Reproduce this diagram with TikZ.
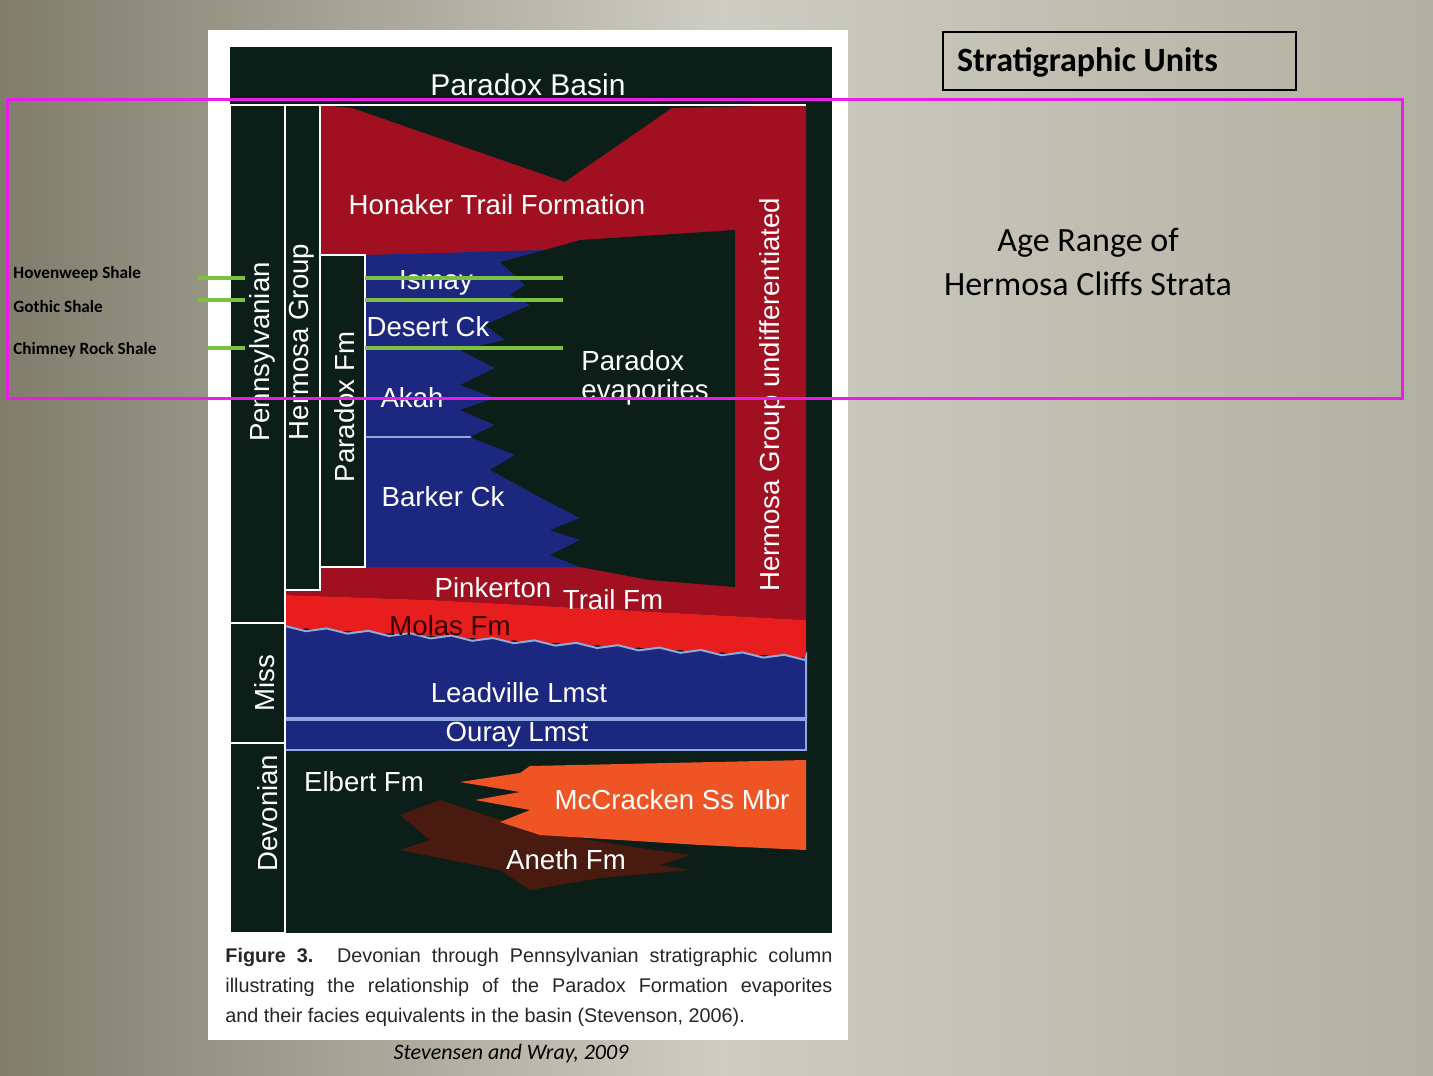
\documentclass[tikz,border=0pt]{standalone}
\usepackage{fontspec}
\setmainfont{Liberation Sans}
\newfontfamily\calib{Carlito}
\usetikzlibrary{positioning}
\definecolor{bgdark}{RGB}{128,125,108}
\definecolor{bglight}{RGB}{206,205,195}
\definecolor{bgright}{RGB}{178,176,160}
\definecolor{colblack}{RGB}{12,30,24}
\definecolor{hermred}{RGB}{160,16,32}
\definecolor{molasred}{RGB}{232,30,30}
\definecolor{parblue}{RGB}{28,40,128}
\definecolor{edgeblue}{RGB}{140,170,220}
\definecolor{mccorange}{RGB}{238,84,36}
\definecolor{anethbrown}{RGB}{72,26,16}
\definecolor{shalegreen}{RGB}{124,192,64}
\definecolor{agemagenta}{RGB}{230,30,230}
\tikzset{unitlabel/.style={text=white, font=\fontsize{13.8}{15}\selectfont, inner sep=0pt},
  sidelabel/.style={font=\calib\bfseries\fontsize{8.6}{10}\selectfont, anchor=west, inner sep=0pt},
  shaleline/.style={shalegreen, line width=1.6pt}}
\begin{document}
\begin{tikzpicture}[x=0.5pt, y=-0.5pt]
  % Background
  \shade[left color=bgdark, right color=bgright, middle color=bglight] (0,0) rectangle (1433,1075);
  \useasboundingbox (0,0) rectangle (1433,1075);
  % Figure panel
  \fill[white] (208,30) rectangle (848,1040);
  \fill[colblack] (230,47) rectangle (832,933);
  % Hermosa and Pinkerton red
  \fill[hermred] (320,105) -- (352,108) -- (565,182) -- (672,108) -- (806,105) -- (806,620)
    -- (430,600) -- (285,595) -- (285,590) -- (320,590) -- cycle;
  % Paradox members
  \fill[parblue] (365,255) -- (545,250) -- (650,567) -- (365,567) -- cycle;
  \draw[edgeblue, line width=0.6pt] (365,300) -- (520,300) (365,347) -- (470,347) (365,437) -- (480,437);
  % Paradox evaporites
  \fill[colblack] (735,230) -- (735,587) -- (650,580) -- (580,567) -- (550,555) -- (580,540) -- (550,530)
    -- (580,518) -- (545,500) -- (490,470) -- (515,455) -- (470,437) -- (495,425) -- (460,410)
    -- (495,398) -- (460,385) -- (495,368) -- (460,350) -- (505,340) -- (485,325) -- (530,305)
    -- (510,295) -- (525,285) -- (500,262) -- (545,250) -- (580,240) -- cycle;
  % Molas, Leadville, Ouray
  \fill[molasred] (285,595) -- (430,600) -- (806,620) -- (806,657)
    \foreach \i in {0,...,25} { -- ({806-\i*20.8},{657-\i*1.2+mod(\i,2)*4}) } -- (285,625) -- cycle;
  \filldraw[fill=parblue, draw=edgeblue, line width=1pt] (285,625)
    \foreach \i in {0,...,25} { -- ({285+\i*20.8},{626+\i*1.2+mod(\i,2)*4}) } -- (806,657) -- (806,718) -- (285,718) -- cycle;
  \filldraw[fill=parblue, draw=edgeblue, line width=1pt] (285,720) rectangle (806,750);
  % Devonian units
  \fill[anethbrown] (400,815) -- (440,800) -- (470,810) -- (530,830) -- (620,845) -- (690,855)
    -- (660,865) -- (690,870) -- (600,878) -- (530,890) -- (500,870) -- (450,860) -- (400,850)
    -- (430,840) -- cycle;
  \fill[mccorange] (806,760) -- (806,850) -- (700,845) -- (540,835) -- (500,822) -- (530,810)
    -- (475,800) -- (520,792) -- (460,782) -- (520,773) -- (530,766) -- cycle;
  % Column frames
  \filldraw[fill=colblack, draw=white, line width=0.8pt] (320,255) rectangle (365,567);
  \draw[white, line width=0.8pt] (230,105) -- (806,105) (230,105) rectangle (285,933)
    (230,623) -- (285,623) (230,743) -- (285,743) (285,105) rectangle (320,590);
  % Labels
  \node[unitlabel, font=\fontsize{15}{16}\selectfont] (basin) at (528,85) {Paradox Basin};
  \node[unitlabel] (honaker) at (497,205) {Honaker Trail Formation};
  \node[unitlabel] (ismay) at (436,283) {Ismay};
  \node[unitlabel] (desert) at (428,327) {Desert Ck};
  \node[unitlabel] (akah) at (412,398) {Akah};
  \node[unitlabel] (barker) at (443,497) {Barker Ck};
  \node[unitlabel, anchor=west, align=left, font=\fontsize{13.8}{14.5}\selectfont] (evap) at (581,378) {Paradox\\evaporites};
  \node[unitlabel] (pinkerton) at (493,588) {Pinkerton};
  \node[unitlabel] (trail) at (613,600) {Trail Fm};
  \node[unitlabel, text=black!80!red] (molas) at (450,626) {Molas Fm};
  \node[unitlabel] (leadville) at (519,693) {Leadville Lmst};
  \node[unitlabel] (ouray) at (517,735) {Ouray Lmst};
  \node[unitlabel] (elbert) at (364,782) {Elbert Fm};
  \node[unitlabel] (mccracken) at (672,800) {McCracken Ss Mbr};
  \node[unitlabel] (aneth) at (566,860) {Aneth Fm};
  \node[unitlabel, rotate=90] (penn) at (262,352) {Pennsylvanian};
  \node[unitlabel, rotate=90] (hermosa) at (302,342) {Hermosa Group};
  \node[unitlabel, rotate=90] (paradoxfm) at (345,407) {Paradox Fm};
  \node[unitlabel, rotate=90] (miss) at (265,683) {Miss};
  \node[unitlabel, rotate=90] (devonian) at (268,813) {Devonian};
  \node[unitlabel, rotate=90] (undiff) at (772,395) {Hermosa Group undifferentiated};
  % Caption
  \node[anchor=north west, inner sep=0pt, text width=303.5pt, align=justify,
    font=\fontsize{9.9}{15}\selectfont, text=black!85] (caption) at (225,948)
    {\textbf{Figure 3.} Devonian through Pennsylvanian stratigraphic column\linebreak illustrating the relationship of the Paradox Formation evaporites\linebreak and their facies equivalents in the basin (Stevenson, 2006).};
  \node[font=\calib\itshape\fontsize{11}{13}\selectfont] (source) at (511,1054) {Stevensen and Wray, 2009};
  % Shale markers
  \draw[shaleline] (198,278) -- (245,278) (365,278) -- (563,278);
  \draw[shaleline] (198,300) -- (245,300) (365,300) -- (563,300);
  \draw[shaleline] (208,348) -- (245,348) (365,348) -- (563,348);
  \node[sidelabel] (hovenweep) at (13,274) {Hovenweep Shale};
  \node[sidelabel] (gothic) at (13,307) {Gothic Shale};
  \node[sidelabel] (chimney) at (13,350) {Chimney Rock Shale};
  % Age range
  \draw[agemagenta, line width=1.5pt] (7,100) rectangle (1402,398);
  \node[font=\calib\fontsize{17}{22}\selectfont, align=center] (agerange) at (1088,262) {Age Range of\\Hermosa Cliffs Strata};
  \draw[black, line width=0.8pt] (943,32) rectangle (1296,90);
  \node[font=\calib\bfseries\fontsize{17}{19}\selectfont, anchor=west] (units) at (950,62) {Stratigraphic Units};
\end{tikzpicture}
\end{document}
